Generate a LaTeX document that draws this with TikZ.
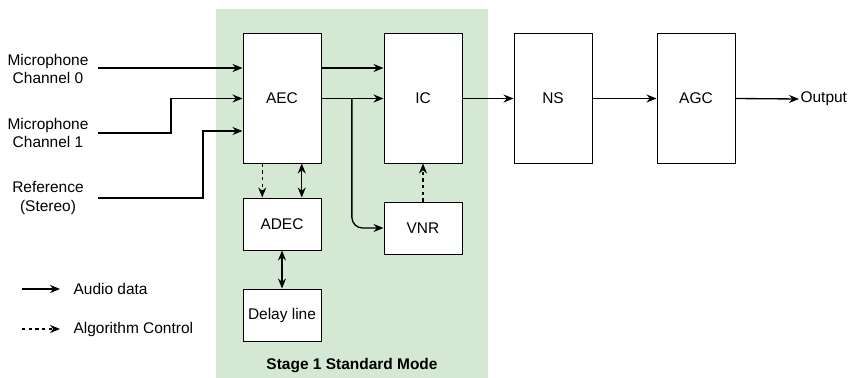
\documentclass[tikz,border=0pt]{standalone}
\usepackage{fontspec}
\setmainfont{Liberation Sans}
\usetikzlibrary{positioning, calc, arrows.meta}
\definecolor{stagegreen}{HTML}{D5E8D4}

\begin{document}
\begin{tikzpicture}[x=0.75pt, y=-0.75pt, font=\fontsize{11.6}{13.7}\selectfont,
    block/.style={draw, fill=white, line width=0.75pt, minimum width=58.5pt, inner sep=0pt},
    tall/.style={block, minimum height=96.75pt},
    short/.style={block, minimum height=39pt},
    audio/.style={-{Stealth[length=7.5pt, width=6pt]}, line width=1pt},
    ctrl/.style={audio, dash pattern=on 2.5pt off 2.5pt},
    both/.style={{Stealth[length=7.5pt, width=6pt]}-{Stealth[length=7.5pt, width=6pt]}, line width=1pt},
    lbl/.style={align=center, inner sep=2pt}]
    \useasboundingbox (0,0) rectangle (850,378);
    % stage 1 background
    \node[fill=stagegreen, minimum width=204pt, minimum height=276.75pt, inner sep=0pt] (stage) at (352,193.5) {};
    \node[font=\fontsize{11.6}{13.7}\selectfont\bfseries] (stagelbl) at (352,366) {Stage 1 Standard Mode};
    % processing blocks
    \node[tall] (aec) at (282,98.5) {AEC};
    \node[tall] (ic) at (423,98.5) {IC};
    \node[tall] (ns) at (553,98.5) {NS};
    \node[tall] (agc) at (696,98.5) {AGC};
    \node[short] (adec) at (282,224) {ADEC};
    \node[short] (delay) at (282,315) {Delay line};
    \node[short] (vnr) at (423,228) {VNR};
    % inputs
    \node[lbl] (mic0) at (48,69) {Microphone\\Channel 0};
    \node[lbl] (mic1) at (48,133) {Microphone\\Channel 1};
    \node[lbl] (ref) at (48,198) {Reference\\(Stereo)};
    \coordinate (in0) at ($(aec.west)+(0,-30.5)$);
    \coordinate (in2) at ($(aec.west)+(0,32.5)$);
    \coordinate (j1) at (171,0);
    \coordinate (j2) at (203,0);
    \draw[audio] ([xshift=5pt]mic0.east |- in0) -- (in0);
    \draw[audio] ([xshift=5pt]mic0.east |- mic1) -| (j1 |- aec.west) -- (aec.west);
    \draw[audio] ([xshift=5pt]mic0.east |- ref) -| (j2 |- in2) -- (in2);
    % AEC to IC
    \draw[audio] ($(aec.east)+(0,-30.5)$) -- ($(ic.west)+(0,-30.5)$);
    \draw[audio] (aec.east) -- (ic.west);
    \coordinate (br) at ($(aec.east)!0.49!(ic.west)$);
    \draw[audio, rounded corners=8pt] (br) |- (vnr.west);
    \draw[ctrl] (vnr.north) -- (ic.south);
    % AEC, ADEC and delay line
    \draw[ctrl] ($(aec.south west)!0.25!(aec.south east)$) -- ($(adec.north west)!0.25!(adec.north east)$);
    \draw[both] ($(aec.south west)!0.75!(aec.south east)$) -- ($(adec.north west)!0.75!(adec.north east)$);
    \draw[both] (adec.south) -- (delay.north);
    % output chain
    \draw[audio] (ic.east) -- (ns.west);
    \draw[audio] (ns.east) -- (agc.west);
    \node[anchor=west, inner sep=1pt] (out) at (799,99) {Output};
    \draw[audio] (agc.east) -- (out.west);
    % legend
    \coordinate (lga) at (22,289);
    \coordinate (lgc) at (22,329);
    \node[anchor=west, inner xsep=10pt] (lgaudio) at (60,289) {Audio data};
    \node[anchor=west, inner xsep=10pt] (lgctrl) at (60,329) {Algorithm Control};
    \draw[audio] (lga) -- (lgaudio.west);
    \draw[ctrl] (lgc) -- (lgctrl.west);
\end{tikzpicture}
\end{document}
